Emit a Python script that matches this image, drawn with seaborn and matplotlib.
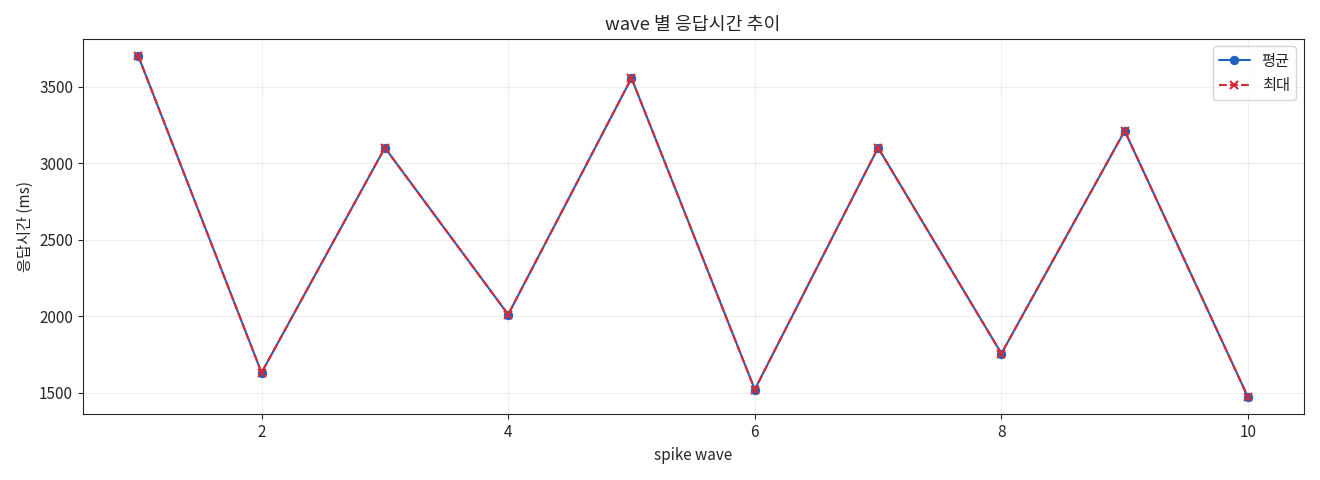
import matplotlib
matplotlib.use("Agg")
import matplotlib.pyplot as plt
import seaborn as sns
import pandas as pd

waves = [1, 2, 3, 4, 5, 6, 7, 8, 9, 10]
avg_ms = [3700, 1630, 3100, 2010, 3555, 1520, 3100, 1755, 3210, 1470]
max_ms = [3700, 1630, 3100, 2010, 3555, 1520, 3100, 1755, 3210, 1470]

sns.set_style("ticks")
plt.rcParams['font.family'] = ['Noto Sans CJK KR', 'DejaVu Sans']
plt.rcParams['axes.unicode_minus'] = False
plt.rcParams['font.size'] = 11

df = pd.DataFrame({"wave": waves, "avg": avg_ms, "max": max_ms})
fig, ax = plt.subplots(figsize=(13.2, 4.8), dpi=100)
sns.lineplot(data=df, x="wave", y="avg", ax=ax, color="#1f63c0", label="평균")
sns.lineplot(data=df, x="wave", y="max", ax=ax, color="#d62a36", label="최대")
l1, l2 = ax.lines[0], ax.lines[1]
l1.set_marker("o"); l1.set_markersize(6); l1.set_markeredgecolor("#1f63c0"); l1.set_markerfacecolor("#1f63c0")
l2.set_marker("x"); l2.set_markersize(6); l2.set_markeredgewidth(1.5); l2.set_linestyle("--")
l2.set_markeredgecolor("#d62a36")
ax.grid(True, alpha=0.3)
ax.set_title("wave 별 응답시간 추이")
ax.set_xlabel("spike wave")
ax.set_ylabel("응답시간 (ms)")
ax.legend(handles=[l1, l2], labels=["평균", "최대"], loc="upper right")
fig.tight_layout()
fig.savefig("out.png")
